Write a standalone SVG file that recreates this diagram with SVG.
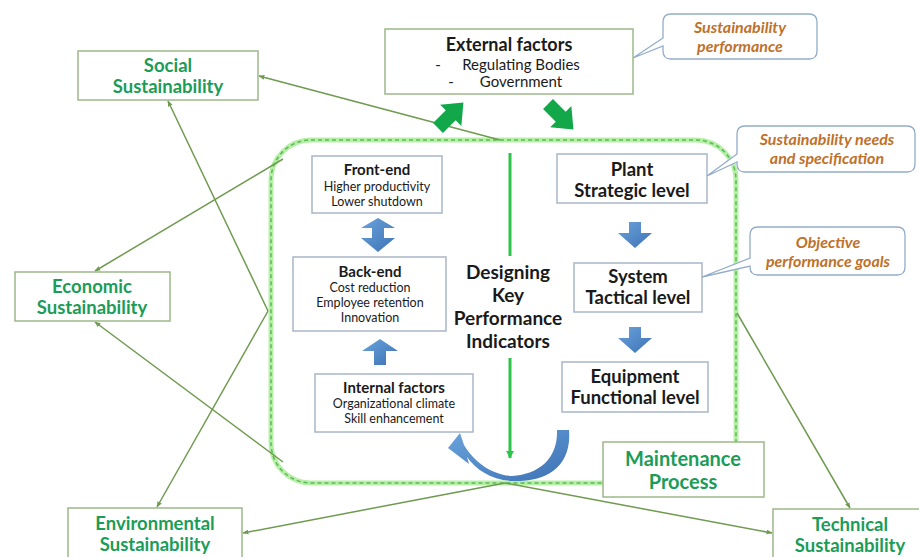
<svg xmlns="http://www.w3.org/2000/svg" width="919" height="557" viewBox="0 0 919 557">
<defs>
<style>
.gbox{fill:#fff;stroke:#9db88a;stroke-width:1.5}
.kbox{fill:#fff;stroke:#a9b6c8;stroke-width:1.5}
.gt{font-family:Lato,"Open Sans",sans-serif;font-weight:bold;fill:#1b9c57;text-anchor:middle}
.kt{font-family:Lato,"Open Sans",sans-serif;fill:#1a1a1a;text-anchor:middle}
.b{font-weight:bold}
.ct{font-family:Lato,"Open Sans",sans-serif;font-style:italic;font-weight:bold;fill:#c0702a;text-anchor:middle;font-size:16px}
.co{fill:#fff;stroke:#93acc9;stroke-width:1.3}
.conn{stroke:#6f9a50;stroke-width:1.5;fill:none}
.blue{fill:url(#bg)}
.garr{fill:#12a84a}
</style>
<linearGradient id="bg" x1="0" y1="0" x2="1" y2="1">
<stop offset="0" stop-color="#6aa3dc"/>
<stop offset="1" stop-color="#3d72b4"/>
</linearGradient>
<marker id="ah" viewBox="0 0 10 10" refX="9" refY="5" markerWidth="6" markerHeight="6" orient="auto-start-reverse" markerUnits="userSpaceOnUse">
<path d="M0,1 L10,5 L0,9 Z" fill="#6f9a50"/>
</marker>
<marker id="gh" viewBox="0 0 10 10" refX="9" refY="5" markerWidth="8" markerHeight="8" orient="auto" markerUnits="userSpaceOnUse">
<path d="M0,0 L10,5 L0,10 Z" fill="#2ec44a"/>
</marker>
</defs>
<rect width="919" height="557" fill="#fff"/>

<!-- dashed process boundary -->
<g id="boundary">
<rect x="271" y="140" width="465" height="343" rx="40" fill="none" stroke="#b5f0a5" stroke-width="5"/>
<rect x="271" y="140" width="465" height="343" rx="40" fill="none" stroke="#5cb85c" stroke-width="1.5" stroke-dasharray="4,3"/>
</g>

<g id="connectors">
<line class="conn" x1="500" y1="140" x2="259" y2="76" marker-end="url(#ah)"/>
<line class="conn" x1="283" y1="159" x2="95" y2="271" marker-end="url(#ah)"/>
<line class="conn" x1="268" y1="311" x2="168" y2="101" marker-end="url(#ah)"/>
<line class="conn" x1="268" y1="311" x2="157" y2="507" marker-end="url(#ah)"/>
<line class="conn" x1="283" y1="462" x2="95" y2="322" marker-end="url(#ah)"/>
<line class="conn" x1="505" y1="483" x2="243" y2="533" marker-end="url(#ah)"/>
<line class="conn" x1="505" y1="483" x2="772" y2="533" marker-end="url(#ah)"/>
<line class="conn" x1="737" y1="313" x2="850" y2="508" marker-end="url(#ah)"/>
<line x1="510" y1="153" x2="510" y2="256" stroke="#2ec44a" stroke-width="3"/>
<line x1="510" y1="358" x2="510" y2="458" stroke="#2ec44a" stroke-width="3" marker-end="url(#gh)"/>
<!-- green fat arrows -->
<path class="garr" transform="translate(438,128) rotate(-45)" d="M0,-7 L18,-7 L18,-15 L36,0 L18,15 L18,7 L0,7 Z"/>
<path class="garr" transform="translate(548,104) rotate(45)" d="M0,-7 L18,-7 L18,-15 L36,0 L18,15 L18,7 L0,7 Z"/>
<!-- blue arrows -->
<path class="blue" d="M629,222 L641,222 L641,233 L652,233 L635,248 L618,233 L629,233 Z"/>
<path class="blue" d="M629,327 L641,327 L641,338 L652,338 L635,353 L618,338 L629,338 Z"/>
<path class="blue" d="M378,218 L395,228 L384,228 L384,238 L395,238 L378,252 L361,238 L372,238 L372,228 L361,228 Z"/>
<path class="blue" d="M380,339 L398,351 L386,351 L386,365 L374,365 L374,351 L362,351 Z"/>
<path class="blue" d="M557,430 L569,430 C572,468 545,482 512,481 C492,480 476,470 467,457 L469,464 L448,448 L460,433 L464,445 C474,462 492,475 512,476 C540,474 558,458 557,430 Z"/>
</g>

<g id="social">
<rect class="gbox" x="78" y="51" width="180" height="49"/>
<text class="gt" font-size="18.5" x="168" y="72">Social</text>
<text class="gt" font-size="18.5" x="168" y="93">Sustainability</text>
</g>
<g id="economic">
<rect class="gbox" x="15" y="272" width="155" height="49"/>
<text class="gt" font-size="18.5" x="92" y="293">Economic</text>
<text class="gt" font-size="18.5" x="92" y="314">Sustainability</text>
</g>
<g id="environmental">
<rect class="gbox" x="68" y="508" width="174" height="60"/>
<text class="gt" font-size="18.5" x="155" y="530">Environmental</text>
<text class="gt" font-size="18.5" x="155" y="551">Sustainability</text>
</g>
<g id="technical">
<rect class="gbox" x="773" y="509" width="160" height="60"/>
<text class="gt" font-size="18.5" x="850" y="531">Technical</text>
<text class="gt" font-size="18.5" x="850" y="552">Sustainability</text>
</g>
<g id="maintenance">
<rect class="gbox" x="603" y="442" width="161" height="55"/>
<text class="gt" font-size="20" x="683" y="466">Maintenance</text>
<text class="gt" font-size="20" x="683" y="489">Process</text>
</g>

<g id="external">
<rect class="gbox" x="385" y="29" width="248" height="65"/>
<text class="kt b" font-size="18" x="509" y="51">External factors</text>
<text class="kt" font-size="15" x="438" y="70">-</text>
<text class="kt" font-size="15" x="521" y="70">Regulating Bodies</text>
<text class="kt" font-size="15" x="451" y="87">-</text>
<text class="kt" font-size="15" x="521" y="87">Government</text>
</g>

<g id="plant">
<rect class="kbox" x="557" y="154" width="150" height="49"/>
<text class="kt b" font-size="18.5" x="632" y="176">Plant</text>
<text class="kt b" font-size="18.5" x="632" y="197">Strategic level</text>
</g>
<g id="system">
<rect class="kbox" x="574" y="263" width="128" height="49"/>
<text class="kt b" font-size="18.5" x="638" y="283">System</text>
<text class="kt b" font-size="18.5" x="638" y="304">Tactical level</text>
</g>
<g id="equipment">
<rect class="kbox" x="562" y="362" width="146" height="50"/>
<text class="kt b" font-size="18.5" x="635" y="383">Equipment</text>
<text class="kt b" font-size="18.5" x="635" y="404">Functional level</text>
</g>

<g id="kpi">
<text class="kt b" font-size="19" x="508" y="279">Designing</text>
<text class="kt b" font-size="19" x="508" y="302">Key</text>
<text class="kt b" font-size="19" x="508" y="325">Performance</text>
<text class="kt b" font-size="19" x="508" y="348">Indicators</text>
</g>

<g id="frontend">
<rect class="kbox" x="312" y="156" width="130" height="57"/>
<text class="kt b" font-size="15" x="377" y="175">Front-end</text>
<text class="kt" font-size="12.5" x="377" y="191">Higher productivity</text>
<text class="kt" font-size="12.5" x="377" y="206">Lower shutdown</text>
</g>
<g id="backend">
<rect class="kbox" x="293" y="257" width="153" height="74"/>
<text class="kt b" font-size="15" x="370" y="277">Back-end</text>
<text class="kt" font-size="12.5" x="370" y="292">Cost reduction</text>
<text class="kt" font-size="12.5" x="370" y="307">Employee retention</text>
<text class="kt" font-size="12.5" x="370" y="322">Innovation</text>
</g>
<g id="internal">
<rect class="kbox" x="315" y="374" width="158" height="58"/>
<text class="kt b" font-size="15" x="394" y="393">Internal factors</text>
<text class="kt" font-size="12.5" x="394" y="408">Organizational climate</text>
<text class="kt" font-size="12.5" x="394" y="423">Skill enhancement</text>
</g>

<g id="callout1">
<path class="co" d="M671,14 L809,14 Q817,14 817,22 L817,51 Q817,59 809,59 L671,59 Q663,59 663,51 L663,46 L633,58 L663,38 L663,22 Q663,14 671,14 Z"/>
<text class="ct" x="740" y="33">Sustainability</text>
<text class="ct" x="740" y="52">performance</text>
</g>
<g id="callout2">
<path class="co" d="M745,126 L907,126 Q915,126 915,134 L915,164 Q915,172 907,172 L745,172 Q737,172 737,164 L737,162 L707,176 L737,154 L737,134 Q737,126 745,126 Z"/>
<text class="ct" x="827" y="145">Sustainability needs</text>
<text class="ct" x="827" y="164">and specification</text>
</g>
<g id="callout3">
<path class="co" d="M758,227 L897,227 Q905,227 905,235 L905,267 Q905,275 897,275 L758,275 Q750,275 750,267 L750,266 L702,277 L750,258 L750,235 Q750,227 758,227 Z"/>
<text class="ct" x="828" y="248">Objective</text>
<text class="ct" x="828" y="267">performance goals</text>
</g>
</svg>
